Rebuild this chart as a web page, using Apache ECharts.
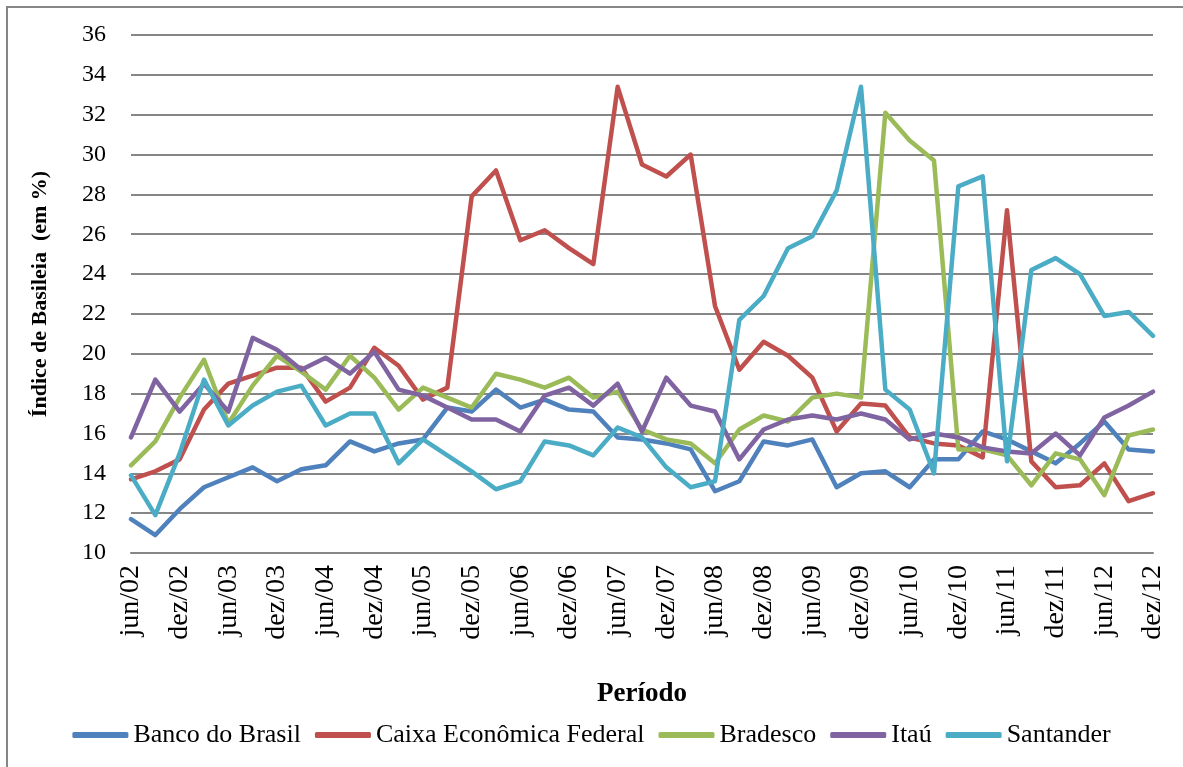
<!DOCTYPE html>
<html>
<head>
<meta charset="utf-8">
<script src="https://cdn.jsdelivr.net/npm/echarts@6/dist/echarts.min.js"></script>
<style>
  html, body { margin: 0; padding: 0; background: #fff; }
  #chart { width: 1183px; height: 767px; }
</style>
</head>
<body>
<div id="chart"></div>
<script>
// quarterly periods, jun/02 .. dez/12
var periodos = ['jun/02','set/02','dez/02','mar/03','jun/03','set/03','dez/03','mar/04','jun/04','set/04',
  'dez/04','mar/05','jun/05','set/05','dez/05','mar/06','jun/06','set/06','dez/06','mar/07',
  'jun/07','set/07','dez/07','mar/08','jun/08','set/08','dez/08','mar/09','jun/09','set/09',
  'dez/09','mar/10','jun/10','set/10','dez/10','mar/11','jun/11','set/11','dez/11','mar/12',
  'jun/12','set/12','dez/12'];

var bancoBrasil = [11.7, 10.9, 12.2, 13.3, 13.8, 14.3, 13.6, 14.2, 14.4, 15.6,
  15.1, 15.5, 15.7, 17.3, 17.1, 18.2, 17.3, 17.7, 17.2, 17.1,
  15.8, 15.7, 15.5, 15.2, 13.1, 13.6, 15.6, 15.4, 15.7, 13.3,
  14.0, 14.1, 13.3, 14.7, 14.7, 16.1, 15.7, 15.1, 14.5, 15.5,
  16.6, 15.2, 15.1];
var caixa = [13.7, 14.1, 14.7, 17.2, 18.5, 18.9, 19.3, 19.3, 17.6, 18.3,
  20.3, 19.4, 17.7, 18.3, 27.9, 29.2, 25.7, 26.2, 25.3, 24.5,
  33.4, 29.5, 28.9, 30.0, 22.4, 19.2, 20.6, 19.9, 18.8, 16.1,
  17.5, 17.4, 15.8, 15.5, 15.4, 14.8, 27.2, 14.6, 13.3, 13.4,
  14.5, 12.6, 13.0];
var bradesco = [14.4, 15.6, 17.8, 19.7, 16.5, 18.4, 19.9, 19.1, 18.2, 19.9,
  18.8, 17.2, 18.3, 17.8, 17.3, 19.0, 18.7, 18.3, 18.8, 17.8,
  18.1, 16.2, 15.7, 15.5, 14.5, 16.2, 16.9, 16.6, 17.8, 18.0,
  17.8, 32.1, 30.7, 29.7, 15.2, 15.2, 14.9, 13.4, 15.0, 14.7,
  12.9, 15.9, 16.2];
var itau = [15.8, 18.7, 17.1, 18.5, 17.1, 20.8, 20.2, 19.2, 19.8, 19.0,
  20.1, 18.2, 17.9, 17.3, 16.7, 16.7, 16.1, 17.9, 18.3, 17.4,
  18.5, 16.1, 18.8, 17.4, 17.1, 14.7, 16.2, 16.7, 16.9, 16.7,
  17.0, 16.7, 15.7, 16.0, 15.8, 15.3, 15.1, 15.0, 16.0, 14.9,
  16.8, 17.4, 18.1];
var santander = [13.9, 11.9, 15.0, 18.7, 16.4, 17.4, 18.1, 18.4, 16.4, 17.0,
  17.0, 14.5, 15.7, 14.9, 14.1, 13.2, 13.6, 15.6, 15.4, 14.9,
  16.3, 15.8, 14.3, 13.3, 13.6, 21.7, 22.9, 25.3, 25.9, 28.2,
  33.4, 18.2, 17.2, 14.0, 28.4, 28.9, 14.6, 24.2, 24.8, 24.0,
  21.9, 22.1, 20.9];

var nomes = ['Banco do Brasil', 'Caixa Econômica Federal', 'Bradesco', 'Itaú', 'Santander'];
var cores = ['#4F81BD', '#C0504D', '#9BBB59', '#8064A2', '#4BACC6'];
var dados = [bancoBrasil, caixa, bradesco, itau, santander];

var fonte = '"Liberation Serif", "Times New Roman", serif';

var chart = echarts.init(document.getElementById('chart'));

var series = nomes.map(function(n, i) {
  return {
    name: n,
    type: 'line',
    data: dados[i],
    showSymbol: false,
    symbol: 'none',
    lineStyle: { width: 4.5, color: cores[i], cap: 'round', join: 'round' },
    itemStyle: { color: cores[i] },
    animation: false
  };
});

chart.setOption({
  backgroundColor: '#fff',
  animation: false,
  textStyle: { fontFamily: fonte },
  color: cores,
  graphic: [{
    type: 'rect',
    shape: { x: 7, y: 7, width: 1200, height: 800 },
    style: { fill: 'none', stroke: '#868686', lineWidth: 2 },
    silent: true
  }],
  grid: { left: 131, right: 30, top: 35, bottom: 214, containLabel: false },
  legend: {
    bottom: 14,
    left: 'center',
    icon: 'roundRect',
    itemWidth: 56,
    itemHeight: 6,
    itemGap: 14,
    textStyle: { fontFamily: fonte, fontSize: 26, color: '#000' },
    data: nomes
  },
  xAxis: {
    type: 'category',
    data: periodos,
    boundaryGap: false,
    name: 'Período',
    nameLocation: 'middle',
    nameGap: 128,
    nameTextStyle: { fontFamily: fonte, fontSize: 27, fontWeight: 'bold', color: '#000' },
    axisLine: { lineStyle: { color: '#868686', width: 2 } },
    axisTick: { show: false },
    axisLabel: {
      interval: 1,
      rotate: 90,
      margin: 12,
      fontFamily: fonte,
      fontSize: 28,
      color: '#000'
    },
    splitLine: { show: false }
  },
  yAxis: {
    type: 'value',
    min: 10,
    max: 36,
    interval: 2,
    name: 'Índice de Basileia  (em %)',
    nameLocation: 'middle',
    nameGap: 80,
    nameTextStyle: { fontFamily: fonte, fontSize: 22, fontWeight: 'bold', color: '#000' },
    axisLine: { show: false },
    axisTick: { show: false },
    axisLabel: { margin: 25, fontFamily: fonte, fontSize: 24, color: '#000' },
    splitLine: { lineStyle: { color: '#868686', width: 2 } }
  },
  series: series
});
</script>
</body>
</html>
